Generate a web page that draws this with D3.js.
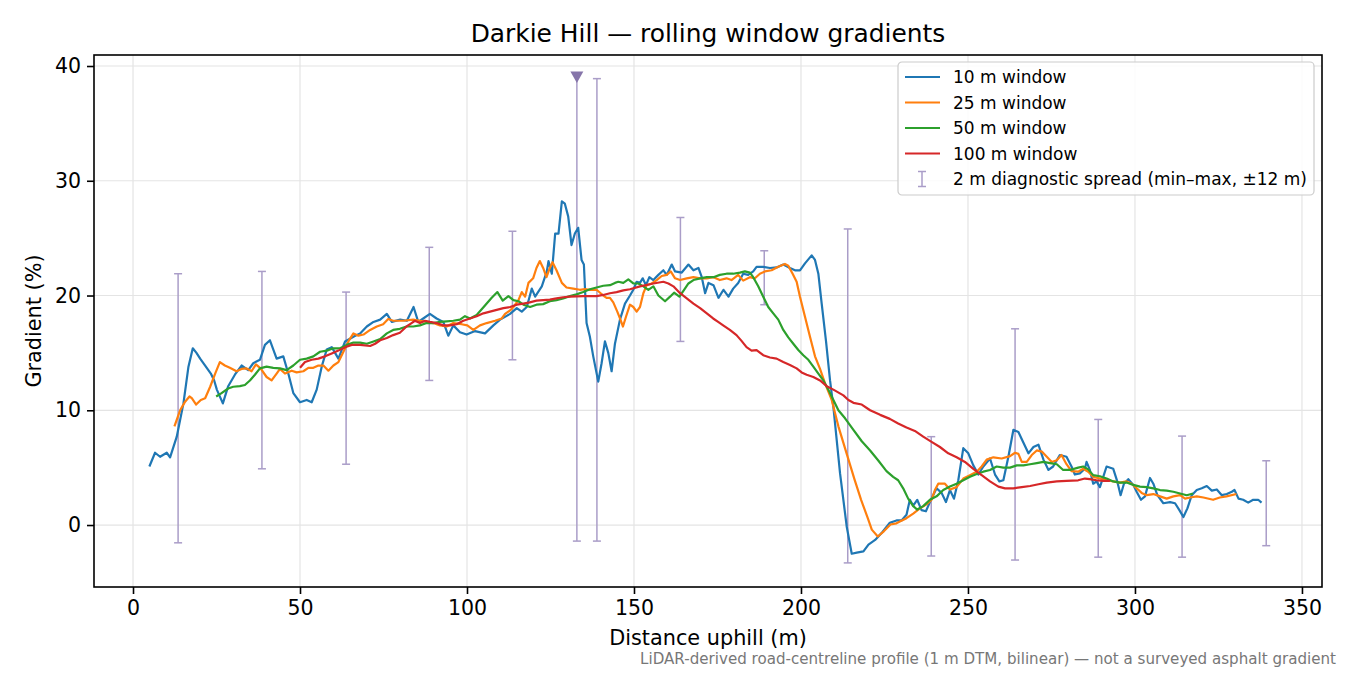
<!DOCTYPE html>
<html>
<head>
<meta charset="utf-8">
<script src="https://cdn.jsdelivr.net/npm/d3@7"></script>
<style>
  body { margin: 0; background: #fff; }
  text { font-family: "DejaVu Sans", sans-serif; }
</style>
</head>
<body>
<div id="chart"></div>
<script>
'use strict';

// [distance (m), gradient (%)]
const win10 = [[4.9,5.1],[6.6,6.3],[8.1,5.95],[10.1,6.3],[11.1,5.9],[13.1,7.7],[15.1,10.6],[16.6,13.8],[17.9,15.4],[19,15.0],[20.1,14.5],[21.6,13.9],[23.3,13.2],[24.3,12.6],[25.1,11.8],[26.9,10.6],[28.5,12.1],[30.5,13.1],[32.5,13.9],[34.5,13.5],[36,14.1],[38,14.4],[39.5,15.7],[41,16.1],[43,14.5],[45,14.7],[46.5,13.2],[48,11.5],[50,10.7],[52,10.9],[53.5,10.7],[55,11.8],[56.5,13.8],[58,15.3],[59.5,15.5],[61.5,14.5],[63.5,16.0],[66,16.4],[68,16.7],[70,17.3],[72,17.7],[74,17.9],[76,18.4],[77.5,17.7],[80,17.9],[82,17.8],[84,19.0],[85.4,17.7],[86.9,18.0],[88.9,18.4],[90.9,18.0],[92.9,17.7],[94.4,16.5],[95.9,17.4],[97.9,16.8],[99.9,16.6],[102.4,16.9],[105.4,16.7],[107.9,17.4],[109.9,17.9],[112.9,18.4],[114.9,18.9],[116.4,18.6],[117.9,19.0],[119.4,20.6],[120.4,19.9],[122.4,20.8],[123.9,22.1],[124.4,23.0],[125.4,21.9],[126.4,25.4],[127.4,25.4],[128.4,28.2],[129.3,28.0],[130.3,26.9],[131.3,24.4],[132.3,25.4],[133.3,25.9],[134.3,23.1],[135,22.7],[135.8,17.6],[136.8,16.4],[137.8,14.7],[139.3,12.5],[140.3,14.1],[141.3,16.0],[142.3,15.0],[143.3,13.4],[144.3,15.8],[145.8,17.9],[147.3,19.3],[148.8,20.0],[149.8,20.5],[150.8,21.2],[151.8,21.1],[152.6,21.5],[153.6,20.9],[154.6,21.6],[155.8,21.35],[157.3,21.8],[158.8,22.2],[159.8,21.8],[161.3,22.7],[162.3,22.1],[164.3,22.0],[166.3,22.7],[167.8,22.2],[169.3,22.4],[170.3,21.6],[171.3,20.2],[172.3,21.1],[173.8,20.9],[175.3,19.8],[176.8,20.5],[178.3,19.9],[179.7,20.6],[181.2,21.1],[182.7,21.9],[184.2,21.8],[185.7,22.1],[186.7,22.5],[188.7,22.5],[190.7,22.4],[192.7,22.45],[194.7,22.7],[196.7,22.4],[198.2,22.2],[199.7,22.2],[201.2,22.8],[203.2,23.5],[204.2,23.1],[205.2,21.9],[206.2,19.3],[207.5,16.0],[208.7,12.6],[209.7,10.3],[211.7,4.5],[213.7,-0.15],[215.2,-2.5],[216.7,-2.4],[218.7,-2.3],[220.2,-1.7],[222.2,-1.3],[224.4,-0.6],[226.6,0.2],[228.6,0.4],[230.1,0.4],[231.6,0.9],[232.6,2.2],[233.6,1.7],[234.8,2.2],[236.1,1.3],[237.4,1.2],[238.6,2.0],[240.6,3.2],[242.1,2.8],[243.4,2.0],[244.6,3.05],[245.8,2.3],[247.1,3.9],[248.6,6.7],[250.1,6.25],[251.6,5.2],[253.1,4.4],[254.6,5.1],[256.6,5.8],[258.1,4.4],[259.4,3.8],[260.6,3.9],[262.1,5.95],[263.6,8.3],[265.1,8.1],[266.4,7.3],[268.1,6.25],[269.6,6.8],[271.1,7.0],[272.6,5.7],[274.1,4.8],[275.5,5.1],[277.5,6.1],[279.5,5.95],[281,5.1],[282,4.4],[283.5,4.5],[285,4.9],[285.5,5.5],[286.5,4.8],[287.5,3.6],[288.5,3.8],[289.5,3.3],[290.5,4.2],[291.5,5.1],[293.5,4.9],[294.7,3.8],[295.7,2.6],[296.7,3.6],[298,4.0],[299.5,3.5],[300.5,2.9],[301.8,2.2],[303,2.5],[304.5,4.1],[305.5,3.6],[306.7,2.6],[308.5,1.9],[310.5,2.0],[312,1.9],[313.3,1.3],[314.5,0.7],[315.7,1.45],[317,2.6],[318.5,3.05],[320,3.2],[321.5,3.4],[323,3.0],[324.5,3.1],[326,2.6],[327.5,2.7],[329,2.9],[329.8,3.05],[331,2.3],[332.4,2.2],[333.9,1.95],[335.4,2.2],[336.9,2.2],[337.9,1.95]];

const win25 = [[12.4,8.6],[14.1,10.0],[15.6,10.75],[16.9,11.2],[17.6,11.05],[18.9,10.5],[20.3,10.9],[21.6,11.05],[23.1,12.05],[24.6,13.2],[26,14.2],[27.5,13.9],[29,13.7],[31,13.4],[32.5,13.6],[34,13.65],[35.5,13.4],[36.8,14.0],[38.2,13.65],[40,12.9],[41.5,12.6],[43,13.2],[44,13.6],[45.5,13.2],[47.5,13.45],[49,13.3],[51,13.4],[52.5,13.7],[54,13.7],[55.5,13.9],[57,13.9],[58.5,13.45],[60,13.9],[61.5,14.2],[63,15.1],[64.5,16.0],[66,16.7],[67.5,16.5],[69,16.6],[71,17.0],[73,17.3],[74.9,17.5],[76.4,17.95],[77.9,17.8],[80.9,17.8],[83.9,17.9],[85.9,17.8],[87.9,17.7],[89.9,17.6],[91.9,17.4],[93.9,17.3],[95.9,17.6],[98.4,17.5],[100.1,17.4],[101.9,17.0],[103.9,17.4],[105.9,17.6],[108.4,17.8],[110.4,18.0],[111.4,18.4],[112.9,18.7],[113.9,19.0],[115.4,19.6],[116.4,20.3],[117.4,19.9],[118.4,21.1],[119.8,21.5],[120.8,22.4],[121.8,23.0],[122.8,22.4],[123.8,21.6],[124.8,22.4],[125.6,22.9],[126.8,22.2],[128.4,21.1],[129.8,20.7],[131.8,20.6],[133.8,20.5],[135.3,20.55],[136.8,20.5],[138.8,20.5],[140.8,20.0],[141.8,19.8],[142.8,19.8],[143.8,19.4],[145,18.6],[145.8,18.0],[146.7,17.3],[147.6,18.15],[148.8,19.2],[149.8,19.0],[150.8,18.6],[151.8,19.0],[152.8,20.2],[153.8,20.9],[155.3,21.05],[156.8,21.35],[158.3,21.7],[159.8,21.8],[161,22.1],[162.3,21.5],[163.8,21.35],[165.8,21.5],[167.8,21.6],[169.8,21.5],[171.8,21.5],[173.8,21.6],[175.7,21.35],[177.7,21.5],[179.2,21.35],[181.2,21.8],[182.7,21.3],[184.7,21.6],[186.2,21.5],[187.7,21.9],[189.2,22.1],[191.2,22.2],[193.2,22.5],[195.2,22.75],[196.2,22.6],[197.5,21.9],[198.7,21.2],[199.7,19.9],[201.2,18.15],[202.7,16.4],[204.2,14.7],[205.7,13.6],[207.2,12.35],[209.2,10.9],[211.2,8.6],[213.7,6.2],[216,4.0],[218,2.2],[220,0.6],[221.2,-0.4],[223,-1.0],[224.8,-0.55],[226.8,0.05],[228.6,0.15],[229.6,0.3],[231.6,0.6],[233.6,1.0],[235.6,1.45],[237.6,1.8],[239.1,2.2],[240.1,3.05],[241.1,3.6],[243.1,3.6],[244.6,3.1],[246.6,3.3],[248.6,4.05],[250.6,4.35],[252.6,4.65],[254.1,5.1],[255.6,5.7],[257.6,5.9],[260.1,5.8],[262.6,6.0],[264.1,6.3],[265.1,6.2],[266.1,5.5],[267.6,5.5],[269.1,6.1],[270.6,6.5],[272.1,6.4],[273.6,5.95],[275.1,5.5],[276.6,5.65],[278,6.1],[279.5,5.3],[281,4.7],[283,4.65],[284.5,4.9],[286,4.65],[287.5,4.2],[289.5,4.05],[291.5,3.9],[293.5,3.8],[295.5,3.7],[297.5,3.8],[299,3.6],[300.5,3.2],[302,2.8],[303.5,2.6],[305.5,2.7],[307.5,2.5],[309.5,2.3],[311.5,2.5],[313.5,2.6],[315,2.3],[316.5,2.4],[318.5,2.5],[320.5,2.4],[323.4,2.2],[325.4,2.4],[327.4,2.5],[330.4,2.7]];

const win50 = [[24.9,11.2],[26.5,11.5],[28.5,11.9],[30,12.05],[32,12.1],[33.5,12.2],[35,12.6],[36.5,13.1],[38,13.65],[40,13.8],[42,13.7],[44,13.65],[46,13.5],[48,13.9],[50,14.4],[52,14.5],[54,14.7],[56,15.1],[58,15.2],[60,15.4],[62,15.4],[64,15.7],[66,15.9],[68,15.9],[70,15.8],[72,16.0],[74,16.2],[76,16.7],[77.9,17.0],[79.9,17.1],[81.9,17.3],[83.9,17.3],[85.9,17.4],[87.9,17.6],[89.9,17.6],[91.9,17.7],[93.9,17.75],[95.9,17.8],[97.9,17.9],[99.4,18.2],[100.9,18.0],[102.9,18.3],[104.4,18.8],[105.9,19.3],[107.4,19.8],[109.1,20.3],[110.7,19.55],[112.4,19.95],[113.9,19.6],[115.4,19.5],[116.9,19.2],[118.9,19.0],[120.8,19.2],[122.8,19.25],[124.8,19.5],[126.8,19.6],[128.8,19.75],[130.8,19.95],[132.8,20.1],[134.8,20.3],[136.8,20.55],[138.8,20.7],[140.8,20.85],[142.8,20.9],[144.3,21.1],[145.3,21.2],[146.8,21.1],[148.3,21.4],[149.8,21.05],[151.3,21.05],[152.8,20.8],[154.3,20.5],[155.8,20.8],[157.3,20.0],[159.3,19.5],[160.8,19.9],[162,20.25],[163.6,19.9],[165,20.5],[166.3,21.05],[167.8,21.35],[169.8,21.5],[171.8,21.6],[173.8,21.6],[175.7,21.8],[177.7,21.9],[179.7,21.9],[181.7,22.0],[183.2,22.1],[184.7,22.0],[185.7,21.6],[187.2,20.8],[188.7,19.9],[190.2,19.0],[191.7,18.45],[193.2,17.9],[194.7,17.0],[196.2,16.35],[197.7,15.8],[199.2,15.25],[200.7,14.8],[202.2,14.4],[203.7,13.8],[205.2,13.2],[206.7,12.6],[208.2,11.8],[209.7,10.9],[211.2,10.0],[213.2,9.3],[215.7,8.3],[218.2,7.3],[220.7,6.5],[223.2,5.6],[225.6,4.7],[227.6,4.2],[229.1,3.9],[230.6,3.2],[232.1,2.3],[233.6,1.65],[234.8,1.35],[236.6,1.65],[238.6,2.2],[240.6,2.5],[242.6,3.05],[244.6,3.35],[246.6,3.6],[248.6,3.9],[250.6,4.2],[252.6,4.45],[254.6,4.65],[256.6,4.8],[258.6,5.1],[260.6,5.0],[262.6,5.0],[264.6,5.2],[266.6,5.2],[268.6,5.3],[270.6,5.4],[272.6,5.5],[274.6,5.4],[276.6,5.3],[278.5,4.8],[280.5,4.8],[283,5.0],[284.5,5.1],[286,4.85],[287.5,4.35],[289.5,4.25],[291.5,4.05],[293.5,3.8],[295.5,3.7],[297.5,3.7],[299.5,3.5],[301.5,3.35],[303.5,3.3],[305.5,3.2],[307.5,3.05],[309.5,3.0],[311.5,2.9],[313.5,2.75],[315.5,2.6],[317.4,2.75]];

const win100 = [[50,13.7],[51.5,14.2],[53.5,14.4],[55.5,14.5],[57.5,14.7],[59.5,14.95],[61.5,15.2],[63.5,15.5],[65.5,15.7],[68,15.7],[71,15.6],[72.5,15.8],[74,16.1],[76,16.3],[77.9,16.55],[79.9,16.75],[81.9,17.3],[83.4,17.6],[84.4,17.8],[85.9,17.6],[87.4,17.8],[88.9,17.7],[90.9,17.6],[92.9,17.4],[94.9,17.4],[96.9,17.5],[98.9,17.8],[100.9,18.0],[102.9,18.2],[104.9,18.45],[106.9,18.6],[108.9,18.75],[110.9,18.9],[112.9,19.0],[114.9,19.2],[116.9,19.3],[118.8,19.4],[120.8,19.55],[122.8,19.6],[124.8,19.65],[126.8,19.75],[128.8,19.85],[130.8,19.9],[134.8,19.95],[138.8,19.95],[140.8,20.05],[142.8,20.2],[144.8,20.3],[146.8,20.45],[148.8,20.55],[151.8,20.8],[155.8,21.05],[158.8,21.2],[160.3,21.05],[161.8,20.8],[163.8,20.2],[165.8,19.75],[167.8,19.3],[169.8,18.9],[171.8,18.45],[173.7,18.0],[175.2,17.7],[176.7,17.4],[178.7,17.0],[180.7,16.55],[182.2,16.05],[183.7,15.5],[185.2,15.2],[186.7,15.25],[188.7,14.8],[190.7,14.6],[192.7,14.5],[194.7,14.2],[196.7,13.95],[198.7,13.65],[200.2,13.3],[201.7,13.1],[203.7,12.9],[205.7,12.6],[207.7,12.1],[209.7,11.8],[212.7,11.3],[214.2,10.9],[215.7,10.65],[218.2,10.5],[220.7,10.0],[223.7,9.6],[226.6,9.25],[229.1,8.85],[231.6,8.5],[234.1,8.2],[236.6,7.7],[239.1,7.25],[241.6,6.8],[244.1,6.25],[246.6,5.9],[249.1,5.5],[251.6,4.9],[254.1,4.35],[256.6,3.8],[259.1,3.35],[261.1,3.2],[263.6,3.2],[266.1,3.3],[268.6,3.4],[271.1,3.55],[273.6,3.7],[276.6,3.8],[279.5,3.85],[283,3.9],[285,4.05],[286.5,4.0],[288.5,3.9],[290.5,3.85],[292.5,3.85]];

// 2 m diagnostic spread: min/max within +-12 m of each sample point
const spreadDist = [13.5, 38.6, 63.8, 88.7, 113.6, 132.9, 138.9, 163.9, 189, 214, 239, 264.1, 289, 314.1, 339.3];
const spreadMin  = [-1.55, 4.9, 5.3, 12.6, 14.4, -1.4, -1.4, 16.0, 19.2, -3.3, -2.7, -3.05, -2.8, -2.8, -1.8];
const spreadMax  = [21.9, 22.1, 20.3, 24.2, 25.6, 39.0, 38.9, 26.8, 23.9, 25.8, 7.7, 17.1, 9.2, 7.75, 5.6];
const spreadClipped = [false, false, false, false, false, true, false, false, false, false, false, false, false, false, false];

const seriesNames = ['10 m window', '25 m window', '50 m window', '100 m window'];
const spreadName = '2 m diagnostic spread (min\u2013max, \u00b112 m)';
const xTicks = [0, 50, 100, 150, 200, 250, 300, 350];
const yTicks = [0, 10, 20, 30, 40];

const colors = ['#1f77b4', '#ff7f0e', '#2ca02c', '#d62728'];
const spreadColor = '#aa9dc8';

var W = 1350, H = 675;
var margin = {top: 55, right: 28, bottom: 88, left: 94};
var width = W - margin.left - margin.right,
    height = H - margin.top - margin.bottom;

var svg = d3.select('#chart').append('svg')
    .attr('width', W).attr('height', H);

var x = d3.scaleLinear().domain([-11.68, 356.0]).range([0, width]);
var y = d3.scaleLinear().domain([-5.4, 40.96]).range([height, 0]);

var g = svg.append('g')
    .attr('transform', 'translate(' + margin.left + ',' + margin.top + ')');

// grid
g.append('g').selectAll('line').data(xTicks).enter().append('line')
    .attr('x1', d => x(d)).attr('x2', d => x(d))
    .attr('y1', 0).attr('y2', height)
    .attr('stroke', '#e4e4e4').attr('stroke-width', 1.2);
g.append('g').selectAll('line').data(yTicks).enter().append('line')
    .attr('y1', d => y(d)).attr('y2', d => y(d))
    .attr('x1', 0).attr('x2', width)
    .attr('stroke', '#e4e4e4').attr('stroke-width', 1.2);

// spread bars
var spread = spreadDist.map(function(d, i){
    return {d: d, lo: spreadMin[i], hi: spreadMax[i], clip: spreadClipped[i]};
});
var sg = g.append('g').attr('stroke', spreadColor).attr('stroke-width', 1.5);
sg.selectAll('.bar').data(spread).enter().append('line')
    .attr('x1', d => x(d.d)).attr('x2', d => x(d.d))
    .attr('y1', d => y(d.lo)).attr('y2', d => y(d.hi));
sg.selectAll('.caplo').data(spread).enter().append('line')
    .attr('x1', d => x(d.d) - 4).attr('x2', d => x(d.d) + 4)
    .attr('y1', d => y(d.lo)).attr('y2', d => y(d.lo));
sg.selectAll('.caphi').data(spread.filter(d => !d.clip)).enter().append('line')
    .attr('x1', d => x(d.d) - 4).attr('x2', d => x(d.d) + 4)
    .attr('y1', d => y(d.hi)).attr('y2', d => y(d.hi));
g.append('g').selectAll('path').data(spread.filter(d => d.clip)).enter().append('path')
    .attr('d', 'M-6.5,-6 L6.5,-6 L0,5.5 Z')
    .attr('transform', d => 'translate(' + x(d.d) + ',' + y(d.hi) + ')')
    .attr('fill', '#8675aa');

// window lines
var line = d3.line().x(d => x(d[0])).y(d => y(d[1]));
[win10, win25, win50, win100].forEach(function(s, i){
    g.append('path').datum(s)
        .attr('d', line)
        .attr('fill', 'none')
        .attr('stroke', colors[i])
        .attr('stroke-width', 2.2)
        .attr('stroke-linejoin', 'round');
});

// axes
var xAxis = g.append('g').attr('transform', 'translate(0,' + height + ')')
    .call(d3.axisBottom(x).tickValues(xTicks).tickSize(7).tickPadding(6).tickFormat(d3.format('d')));
var yAxis = g.append('g')
    .call(d3.axisLeft(y).tickValues(yTicks).tickSize(7).tickPadding(6).tickFormat(d3.format('d')));
[xAxis, yAxis].forEach(function(a){
    a.select('.domain').remove();
    a.selectAll('line').attr('stroke', '#000').attr('stroke-width', 1.6);
    a.selectAll('text').attr('fill', '#000')
        .style('font-family', '"DejaVu Sans", sans-serif').style('font-size', '20.5px');
});

// frame
g.append('rect').attr('width', width).attr('height', height)
    .attr('fill', 'none').attr('stroke', '#000').attr('stroke-width', 1.6);

// titles
svg.append('text').attr('x', margin.left + width / 2).attr('y', 42)
    .attr('text-anchor', 'middle').style('font-size', '24.9px')
    .text('Darkie Hill \u2014 rolling window gradients');
svg.append('text').attr('x', margin.left + width / 2).attr('y', 645)
    .attr('text-anchor', 'middle').style('font-size', '20.8px')
    .text('Distance uphill (m)');
svg.append('text').attr('transform', 'translate(41,' + (margin.top + height / 2) + ') rotate(-90)')
    .attr('text-anchor', 'middle').style('font-size', '20.8px')
    .text('Gradient (%)');
svg.append('text').attr('x', 1336).attr('y', 664)
    .attr('text-anchor', 'end').attr('fill', '#777').style('font-size', '15.1px')
    .text('LiDAR-derived road-centreline profile (1 m DTM, bilinear) \u2014 not a surveyed asphalt gradient');

// legend
var lg = svg.append('g').attr('transform', 'translate(898,62)');
lg.append('rect').attr('width', 416).attr('height', 133).attr('rx', 4)
    .attr('fill', '#fff').attr('fill-opacity', 0.85)
    .attr('stroke', '#cccccc').attr('stroke-width', 1.2);
var rowY = d3.range(5).map(i => 15 + i * 25.5);
seriesNames.forEach(function(name, i){
    lg.append('line').attr('x1', 7).attr('x2', 42)
        .attr('y1', rowY[i]).attr('y2', rowY[i])
        .attr('stroke', colors[i]).attr('stroke-width', 2.2);
    lg.append('text').attr('x', 55).attr('y', rowY[i] + 6)
        .style('font-size', '17px').text(name);
});
var ly = rowY[4];
var li = lg.append('g').attr('stroke', spreadColor).attr('stroke-width', 1.5);
li.append('line').attr('x1', 24).attr('x2', 24).attr('y1', ly - 7.5).attr('y2', ly + 7.5);
li.append('line').attr('x1', 20).attr('x2', 28).attr('y1', ly - 7.5).attr('y2', ly - 7.5);
li.append('line').attr('x1', 20).attr('x2', 28).attr('y1', ly + 7.5).attr('y2', ly + 7.5);
lg.append('text').attr('x', 55).attr('y', ly + 6)
    .style('font-size', '17px').text(spreadName);
</script>
</body>
</html>
